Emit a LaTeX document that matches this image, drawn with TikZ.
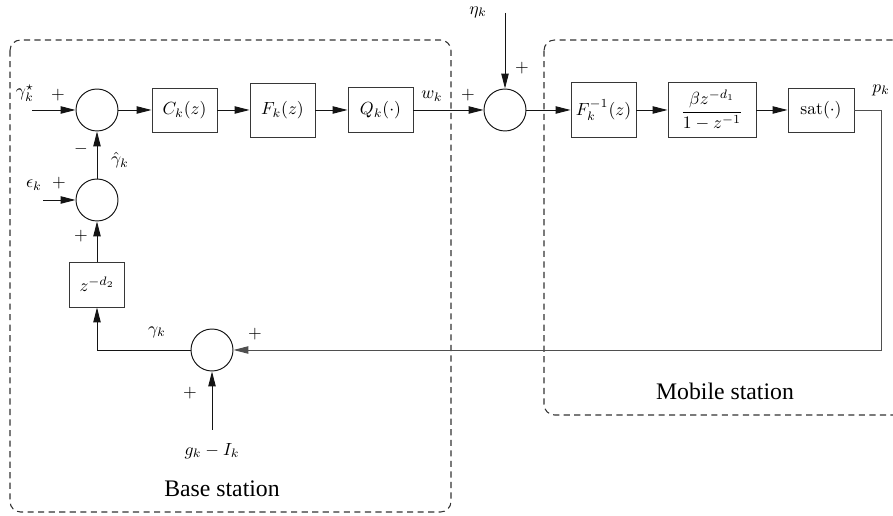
\documentclass[tikz,border=0pt]{standalone}
\usepackage{amsmath}
\usepackage{fontspec}
\newfontfamily\stationfont{Liberation Serif}
\usetikzlibrary{arrows.meta, calc}
\definecolor{framec}{RGB}{50,50,50}
\definecolor{inkc}{RGB}{20,20,20}
\tikzset{
  block/.style={
    rectangle, draw=inkc!85, line width=0.55pt, fill=white,
    inner sep=2pt, minimum width=1.3cm, minimum height=0.88cm
  },
  junc/.style={circle, draw=inkc, line width=0.55pt, minimum size=0.84cm, inner sep=0pt},
  arr/.style={-{Triangle[length=8.5pt, width=4.2pt]}, line width=0.55pt, draw=inkc},
  frame/.style={draw=framec, line width=0.6pt, dash pattern=on 3.5pt off 2.5pt,
                rounded corners=6pt},
  sgn/.style={inner sep=1pt},
  lbl/.style={inner sep=1pt},
  station/.style={font=\stationfont\fontsize{13.5}{16}\selectfont},
}

\begin{document}
\begin{tikzpicture}[x=0.02cm, y=-0.02cm]

  \useasboundingbox (0,0) rectangle (893,516);
  \clip (0,0) rectangle (893,516);

  % the two stations
  \draw[frame] (10,40) rectangle (451,512);
  \draw[frame] (544,40) rectangle (930,415);
  \node[station] (bs) at (222,489) {Base station};
  \node[station] (ms) at (725,391) {Mobile station};

  % forward path
  \node[junc] (s1) at (97,110) {};
  \node[block] (ck) at (184.5,110) {$C_k(z)$};
  \node[block, minimum height=1.08cm] (fk) at (282.5,110) {$F_k(z)$};
  \node[block, minimum height=0.9cm] (qk) at (380.5,110) {$Q_k(\cdot)$};
  \node[junc] (s4) at (505,110) {};
  \node[block, minimum height=1.1cm] (fi) at (603.5,110) {$F_k^{-1}(z)$};
  \node[block, minimum width=1.76cm, minimum height=1.1cm] (pl) at (712,110)
    {$\dfrac{\beta z^{-d_1}}{1-z^{-1}}$};
  \node[block, minimum width=1.32cm] (sat) at (821,110) {$\mathrm{sat}(\cdot)$};

  % measurement path
  \node[junc] (s2) at (97,200) {};
  \node[block, minimum width=1.1cm, minimum height=0.9cm] (zd) at (97,284.5) {$z^{-d_2}$};
  \node[junc] (s3) at (212,350) {};

  \coordinate (gin) at (32,110);
  \coordinate (ein) at (43,200);
  \coordinate (etin) at (505,13);
  \coordinate (gi) at (212,430);
  \coordinate (pk) at (881,110);

  \draw[arr] (gin) -- (s1);
  \draw[arr] (s1) -- (ck);
  \draw[arr] (ck) -- (fk);
  \draw[arr] (fk) -- (qk);
  \draw[arr] (qk) -- (s4);
  \draw[arr] (etin) -- (s4);
  \draw[arr] (s4) -- (fi);
  \draw[arr] (fi) -- (pl);
  \draw[arr] (pl) -- (sat);
  \draw[arr, draw=inkc!75] (sat) -- (pk) |- (s3);
  \draw[arr] (s3) -| (zd);
  \draw[arr] (gi) -- (s3);
  \draw[arr] (zd) -- (s2);
  \draw[arr] (ein) -- (s2);
  \draw[arr] (s2) -- (s1);

  % signals
  \node[lbl] (lgr) at (25,93) {$\gamma_k^\star$};
  \node[lbl] (lep) at (34,185) {$\epsilon_k$};
  \node[lbl] (lgh) at (120,160) {$\hat{\gamma}_k$};
  \node[lbl] (lgm) at (157,332) {$\gamma_k$};
  \node[lbl] (lgi) at (212,451) {$g_k-I_k$};
  \node[lbl] (lwk) at (432,96) {$w_k$};
  \node[lbl] (let) at (478,12) {$\eta_k$};
  \node[lbl] (lpk) at (881,90) {$p_k$};

  % signs
  \node[sgn] (p1) at (58,95) {$+$};
  \node[sgn] (m1) at (81,149) {$-$};
  \node[sgn] (p2) at (59,183) {$+$};
  \node[sgn] (p3) at (81,236) {$+$};
  \node[sgn] (p4) at (255,334) {$+$};
  \node[sgn] (p5) at (190,393) {$+$};
  \node[sgn] (p6) at (468,95) {$+$};
  \node[sgn] (p7) at (522,68) {$+$};

\end{tikzpicture}
\end{document}
